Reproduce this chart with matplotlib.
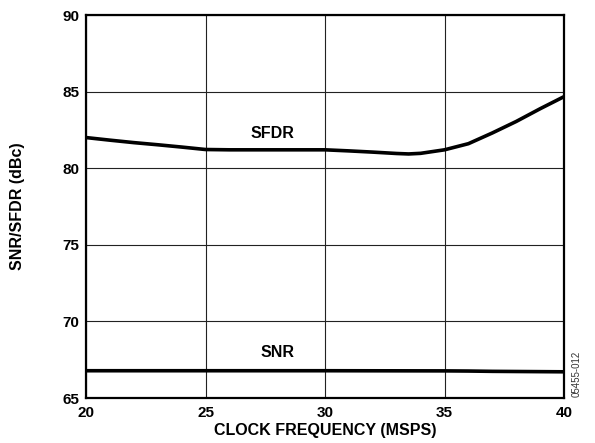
import matplotlib
matplotlib.use("Agg")
import matplotlib.pyplot as plt
import numpy as np

# Data
freq_sfdr = [20, 21, 22, 23, 24, 25, 26, 27, 28, 29, 30, 31, 32, 33, 33.5, 34, 35, 36, 37, 38, 39, 40]
sfdr = [82.0, 81.83, 81.67, 81.53, 81.38, 81.22, 81.2, 81.2, 81.2, 81.2, 81.2, 81.13, 81.05, 80.96,
        80.93, 80.97, 81.2, 81.6, 82.3, 83.05, 83.88, 84.67]
freq_snr = [20, 25, 30, 35, 36, 37, 38, 39, 40]
snr = [66.78, 66.78, 66.78, 66.77, 66.76, 66.74, 66.73, 66.72, 66.71]
xticks = [20, 25, 30, 35, 40]
yticks = [65, 70, 75, 80, 85, 90]

plt.rcParams['font.family'] = ['Liberation Sans', 'DejaVu Sans']

fig = plt.figure(figsize=(5.95, 4.43), dpi=100)
ax = fig.add_axes([86/595, 1 - 398/443, (564-86)/595, (398-15)/443])

ax.plot(freq_sfdr, sfdr, color='black', lw=2.6, solid_capstyle='butt', zorder=3)
ax.plot(freq_snr, snr, color='black', lw=2.6, solid_capstyle='butt', zorder=3)

ax.set_xlim(20, 40)
ax.set_ylim(65, 90)
ax.set_xticks(xticks)
ax.set_yticks(yticks)
ax.set_xticklabels([str(v) for v in xticks], fontweight='bold', fontsize=11)
ax.set_yticklabels([str(v) for v in yticks], fontweight='bold', fontsize=11)
ax.tick_params(axis='x', length=0, pad=6)
ax.tick_params(axis='y', length=0, pad=5)
ax.grid(True, color='#222222', lw=0.8)
ax.set_axisbelow(True)
for s in ax.spines.values():
    s.set_linewidth(1.6)
    s.set_color('black')

ax.set_xlabel('CLOCK FREQUENCY (MSPS)', fontweight='bold', fontsize=11.5, labelpad=2)
fig.text(18/595, 1 - 206/443, 'SNR/SFDR (dBc)', fontweight='bold', fontsize=11.5,
         rotation=90, ha='center', va='center')

ax.text(27.8, 82.27, 'SFDR', fontweight='bold', fontsize=11.5, ha='center', va='center')
ax.text(28.0, 67.96, 'SNR', fontweight='bold', fontsize=11.5, ha='center', va='center')

fig.text(577/595, 1 - 397/443, '05455-012', rotation=90, fontsize=7, color='#333333',
         ha='center', va='bottom')

fig.savefig('out.png', dpi=100)
